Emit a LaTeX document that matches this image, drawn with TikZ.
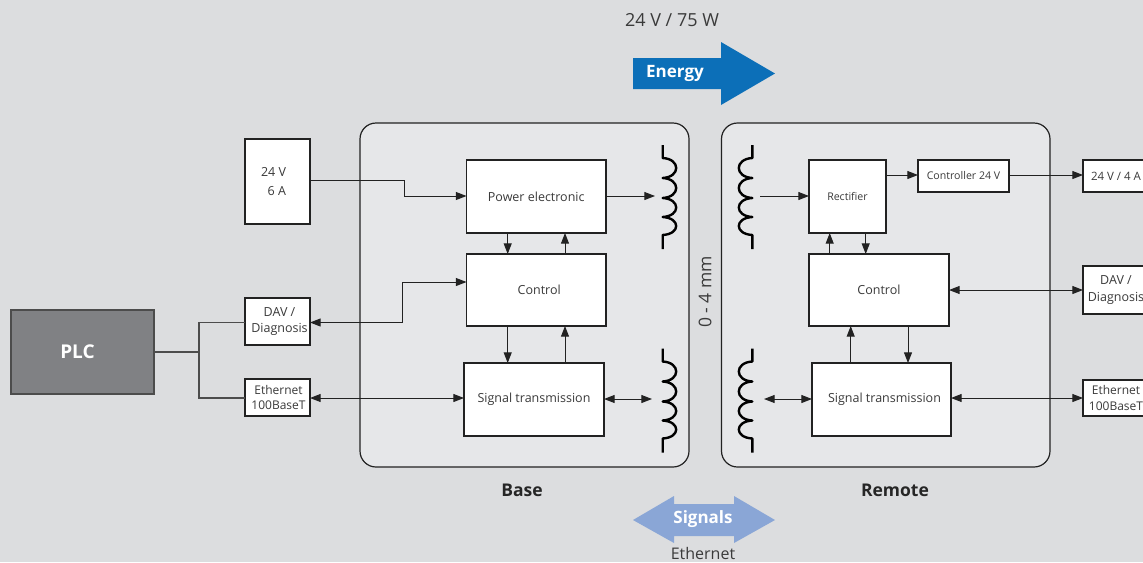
\documentclass[tikz,border=0pt]{standalone}
\usepackage{fontspec}
\setmainfont{Open Sans}
\usetikzlibrary{arrows.meta}
\definecolor{bgc}{HTML}{DCDDDF}
\definecolor{panelc}{HTML}{E6E7E9}
\definecolor{linec}{HTML}{222222}
\definecolor{plcc}{HTML}{808184}
\definecolor{energyc}{HTML}{0C6FB8}
\definecolor{signalc}{HTML}{8AA6D6}
\definecolor{textc}{HTML}{3A3A3A}
\newcommand{\fpx}[1]{\pgfmathsetmacro\fsz{#1*0.75}\pgfmathsetmacro\fsl{#1*0.97}\fontsize{\fsz pt}{\fsl pt}\selectfont}
\newcommand{\bx}[7]{\pgfmathsetmacro\bw{(#5-#3)*0.75}\pgfmathsetmacro\bh{(#6-#4)*0.75}\node[#1,minimum width=\bw pt,minimum height=\bh pt] (#2) at ({(#3+#5)/2},{(#4+#6)/2}) {#7};}
\newcommand{\coilshape}[3]{%
  \draw[coilline] (#1,#2) -- (#1,{#2+13})
    .. controls ({#1+#3*18},{#2+14}) and ({#1+#3*18},{#2+32}) .. (#1,{#2+33})
    .. controls ({#1+#3*18},{#2+34}) and ({#1+#3*18},{#2+52}) .. (#1,{#2+53})
    .. controls ({#1+#3*18},{#2+54}) and ({#1+#3*18},{#2+71}) .. (#1,{#2+72})
    .. controls ({#1+#3*18},{#2+73}) and ({#1+#3*18},{#2+89}) .. (#1,{#2+90})
    -- (#1,{#2+104});}
\tikzset{
  x=0.75pt,y=-0.75pt,
  >={Triangle[length=8pt,width=6pt]},
  box/.style={draw=linec,fill=white,line width=0.85pt,inner sep=0pt,outer sep=0pt,text=textc,align=center,font=\fpx{12.5}},
  smallbox/.style={box,font=\fpx{12.5}},
  tinybox/.style={box,font=\fpx{10.6}},
  panel/.style={draw=linec,fill=panelc,line width=0.9pt,rounded corners=12pt,inner sep=0pt,outer sep=0pt},
  plcbox/.style={draw=black!70,fill=plcc,line width=0.9pt,inner sep=0pt,outer sep=0pt,text=white,font=\fpx{19}\bfseries},
  conn/.style={draw=linec,line width=0.75pt},
  plcline/.style={draw=black!70,line width=0.85pt},
  coilline/.style={draw=black,line width=1.8pt,line join=round},
  title/.style={text=black!85,font=\fpx{17.5}\bfseries,inner sep=0pt},
  arrowtext/.style={text=white,font=\fpx{17}\bfseries,inner sep=0pt},
  note/.style={text=textc,font=\fpx{18},inner sep=0pt},
}
\begin{document}
\begin{tikzpicture}
\useasboundingbox (0,0) rectangle (1143,562);
\clip (0,0) rectangle (1143,562);
\fill[bgc] (0,0) rectangle (1143,562);

% panels
\bx{panel}{base}{360}{123}{689}{467}{}
\bx{panel}{remote}{721.5}{123}{1050}{467}{}

% left side
\bx{plcbox}{plc}{11}{310}{154}{394}{PLC\hspace*{7.5pt}}
\bx{box,align=right}{supply}{245}{139}{310}{224}{24 V\hspace*{6pt}\\[1.5pt]6 A\hspace*{6pt}}
\bx{smallbox}{davl}{245}{298}{310}{345}{\hspace*{3pt}DAV /\\\hspace*{3pt}Diagnosis}
\bx{smallbox,font=\fpx{12}}{ethl}{245}{379}{310}{416}{\hspace*{1.5pt}Ethernet\\\hspace*{1.5pt}100BaseT}

% base blocks
\bx{box}{power}{466.5}{160}{606}{233}{Power electronic}
\bx{box}{ctll}{466.5}{254}{606}{326}{\hspace*{4.5pt}Control}
\bx{box}{sigl}{464}{363}{604}{436}{\raisebox{-1.2pt}{Signal transmission}}

% remote blocks
\bx{tinybox}{rect}{809}{160}{886}{233}{Rectifier}
\bx{tinybox}{ctrl24}{918}{160}{1009}{192}{\raisebox{-0.6pt}{Controller 24 V}}
\bx{box}{ctlr}{809}{254}{949}{326}{Control}
\bx{box}{sigr}{812}{363}{951}{436}{\hspace*{4.5pt}\raisebox{-1.2pt}{Signal transmission}}

% right side
\bx{tinybox}{out24}{1083}{160}{1149}{192}{\fpx{11.5}24 V / 4 A}
\bx{smallbox}{davr}{1083}{266}{1149}{314}{DAV /\\Diagnosis}
\bx{smallbox,font=\fpx{12}}{ethr}{1083}{380}{1149}{416}{Ethernet\\100BaseT}

% coils
\coilshape{662.7}{145}{1}
\coilshape{662.7}{348.5}{1}
\coilshape{752.3}{145}{-1}
\coilshape{752.3}{348.5}{-1}

% free connector ends and routing levels
\coordinate (c1) at (655,196);
\coordinate (c2) at (652,399);
\coordinate (c3) at (760,196);
\coordinate (c4) at (764,399);
\coordinate (bus) at (199,352);
\coordinate (a) at (404,180);
\coordinate (b) at (402,322.5);
\coordinate (xa) at (507.7,0);
\coordinate (xb) at (565,0);
\coordinate (xc) at (829.7,0);
\coordinate (xd) at (865.7,0);
\coordinate (xe) at (850.7,0);
\coordinate (xf) at (908,0);
\coordinate (yp) at (0,196);
\coordinate (yc) at (0,282);
\coordinate (ye) at (0,398);
\coordinate (yt) at (0,175);
\coordinate (yd) at (0,290);

% PLC bus
\draw[plcline] (plc.east |- bus) -- (bus);
\draw[plcline] (davl.west |- b) -| (bus) |- (ethl.west |- ye);

% left connectors
\draw[conn,->] (supply.east |- a) -- (a) |- (power.west |- yp);
\draw[conn,<->] (davl.east |- b) -- (b) |- (ctll.west |- yc);
\draw[conn,<->] (ethl.east |- ye) -- (sigl.west |- ye);

% base internal
\draw[conn,->] (power.east |- yp) -- (c1);
\draw[conn,->] (power.south -| xa) -- (ctll.north -| xa);
\draw[conn,->] (ctll.north -| xb) -- (power.south -| xb);
\draw[conn,->] (ctll.south -| xa) -- (sigl.north -| xa);
\draw[conn,->] (sigl.north -| xb) -- (ctll.south -| xb);
\draw[conn,<->] (sigl.east |- c2) -- (c2);

% remote internal
\draw[conn,->] (c3) -- (rect.west |- c3);
\draw[conn,->] (rect.east |- yt) -- (ctrl24.west |- yt);
\draw[conn,->] (ctrl24.east |- yt) -- (out24.west |- yt);
\draw[conn,->] (ctlr.north -| xc) -- (rect.south -| xc);
\draw[conn,->] (rect.south -| xd) -- (ctlr.north -| xd);
\draw[conn,<->] (ctlr.east |- yd) -- (davr.west |- yd);
\draw[conn,->] (sigr.north -| xe) -- (ctlr.south -| xe);
\draw[conn,->] (ctlr.south -| xf) -- (sigr.north -| xf);
\draw[conn,<->] (c4) -- (sigr.west |- c4);
\draw[conn,<->] (sigr.east |- ye) -- (ethr.west |- ye);

% big arrows
\fill[energyc] (633,58) -- (721,58) -- (721,42) -- (775,73.5) -- (721,105) -- (721,89) -- (633,89) -- cycle;
\fill[signalc] (633,520) -- (674,496) -- (674,504) -- (734,504) -- (734,496) -- (775,520) -- (734,543) -- (734,536) -- (674,536) -- (674,543) -- cycle;

% labels
\node[note] (power24) at (672,20) {24 V / 75 W};
\node[arrowtext] (energy) at (675,73.5) {Energy};
\node[arrowtext] (signals) at (703,519.5) {Signals};
\node[note,font=\fpx{16}] (ether) at (703,553) {Ethernet};
\node[note,rotate=90,font=\fpx{17.5}] (gap) at (705,292) {0 - 4 mm};
\node[title] (tbase) at (522,490) {Base};
\node[title] (tremote) at (895,490) {Remote};
\end{tikzpicture}
\end{document}
